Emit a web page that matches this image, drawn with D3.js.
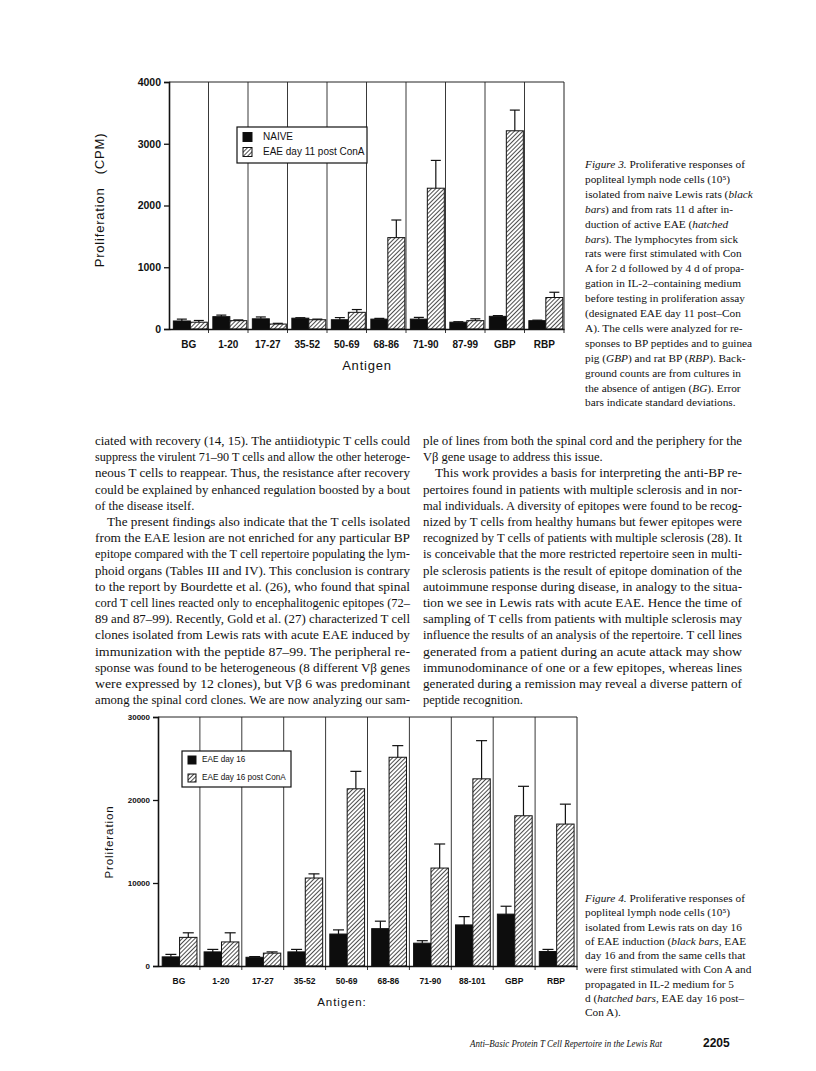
<!DOCTYPE html>
<html>
<head>
<meta charset="utf-8">
<script src="https://cdn.jsdelivr.net/npm/d3@7"></script>
<style>
  body { margin: 0; background: #fff; }
  svg { display: block; }
</style>
</head>
<body>
<svg id="page" width="816" height="1071"></svg>
<script>
// ---- data ----
var cats3 = ["BG", "1-20", "17-27", "35-52", "50-69", "68-86", "71-90", "87-99", "GBP", "RBP"];
var naive = [130, 200, 165, 175, 150, 160, 160, 110, 205, 135];
var naiveSd = [30, 25, 30, 8, 35, 12, 28, 8, 12, 8];
var eae11 = [110, 135, 80, 150, 270, 1480, 2280, 135, 3210, 510];
var eae11Sd = [28, 12, 12, 10, 45, 285, 450, 30, 335, 85];
var ticks3 = [0, 1000, 2000, 3000, 4000];

var cats4 = ["BG", "1-20", "17-27", "35-52", "50-69", "68-86", "71-90", "88-101", "GBP", "RBP"];
var day16 = [1100, 1700, 1050, 1700, 3850, 4500, 2750, 4950, 6250, 1750];
var day16Sd = [300, 300, 80, 300, 500, 900, 300, 1000, 950, 250];
var day16Con = [3450, 2900, 1550, 10600, 21350, 25150, 11800, 22550, 18100, 17100];
var day16ConSd = [550, 1100, 150, 500, 2100, 1400, 2900, 4600, 3550, 2400];
var ticks4 = [0, 10000, 20000, 30000];

var caption3 = [
    "{Figure 3.} Proliferative responses of",
    "popliteal lymph node cells (10\u2075)",
    "isolated from naive Lewis rats ({black}",
    "{bars}) and from rats 11 d after in-",
    "duction of active EAE ({hatched}",
    "{bars}). The lymphocytes from sick",
    "rats were first stimulated with Con",
    "A for 2 d followed by 4 d of propa-",
    "gation in IL-2\u2013containing medium",
    "before testing in proliferation assay",
    "(designated EAE day 11 post\u2013Con",
    "A). The cells were analyzed for re-",
    "sponses to BP peptides and to guinea",
    "pig ({GBP}) and rat BP ({RBP}). Back-",
    "ground counts are from cultures in",
    "the absence of antigen ({BG}). Error",
    "bars indicate standard deviations."
];
var caption4 = [
    "{Figure 4.} Proliferative responses of",
    "popliteal lymph node cells (10\u2075)",
    "isolated from Lewis rats on day 16",
    "of EAE induction ({black bars,} EAE",
    "day 16 and from the same cells that",
    "were first stimulated with Con A and",
    "propagated in IL-2 medium for 5",
    "d ({hatched bars,} EAE day 16 post\u2013",
    "Con A)."
];
// ">" marks an indented first line, "|" the last line of a paragraph
var leftCol = [
    "ciated with recovery (14, 15). The antiidiotypic T cells could",
    "suppress the virulent 71\u201390 T cells and allow the other heteroge-",
    "neous T cells to reappear. Thus, the resistance after recovery",
    "could be explained by enhanced regulation boosted by a bout",
    "of the disease itself.|",
    ">The present findings also indicate that the T cells isolated",
    "from the EAE lesion are not enriched for any particular BP",
    "epitope compared with the T cell repertoire populating the lym-",
    "phoid organs (Tables III and IV). This conclusion is contrary",
    "to the report by Bourdette et al. (26), who found that spinal",
    "cord T cell lines reacted only to encephalitogenic epitopes (72\u2013",
    "89 and 87\u201399). Recently, Gold et al. (27) characterized T cell",
    "clones isolated from Lewis rats with acute EAE induced by",
    "immunization with the peptide 87\u201399. The peripheral re-",
    "sponse was found to be heterogeneous (8 different V\u03b2 genes",
    "were expressed by 12 clones), but V\u03b2 6 was predominant",
    "among the spinal cord clones. We are now analyzing our sam-"
];
var rightCol = [
    "ple of lines from both the spinal cord and the periphery for the",
    "V\u03b2 gene usage to address this issue.|",
    ">This work provides a basis for interpreting the anti-BP re-",
    "pertoires found in patients with multiple sclerosis and in nor-",
    "mal individuals. A diversity of epitopes were found to be recog-",
    "nized by T cells from healthy humans but fewer epitopes were",
    "recognized by T cells of patients with multiple sclerosis (28). It",
    "is conceivable that the more restricted repertoire seen in multi-",
    "ple sclerosis patients is the result of epitope domination of the",
    "autoimmune response during disease, in analogy to the situa-",
    "tion we see in Lewis rats with acute EAE. Hence the time of",
    "sampling of T cells from patients with multiple sclerosis may",
    "influence the results of an analysis of the repertoire. T cell lines",
    "generated from a patient during an acute attack may show",
    "immunodominance of one or a few epitopes, whereas lines",
    "generated during a remission may reveal a diverse pattern of",
    "peptide recognition.|"
];

var svg = d3.select("#page");
var SANS = "'Liberation Sans', Arial, sans-serif";
var SERIF = "'Liberation Serif', 'Times New Roman', serif";

var defs = svg.append("defs");
defs.append("pattern")
    .attr("id", "hatch")
    .attr("patternUnits", "userSpaceOnUse")
    .attr("width", 3).attr("height", 3)
    .attr("patternTransform", "rotate(45)")
  .call(function (p) {
      p.append("rect").attr("width", 3).attr("height", 3).attr("fill", "#fff");
      p.append("line").attr("x1", 0).attr("y1", 0).attr("x2", 0).attr("y2", 3)
          .attr("stroke", "#111").attr("stroke-width", 1.5);
  });

function drawChart(o) {
    var g = svg.append("g");
    var x = d3.scaleBand().domain(o.cats).range([o.left, o.right]);
    var sub = d3.scaleBand().domain([0, 1])
        .range([x.bandwidth() * o.inset[0], x.bandwidth() * o.inset[1]]);
    var y = d3.scaleLinear().domain([0, o.yMax]).range([o.bottom, o.top]);

    // separators between antigens, plus frame
    g.selectAll("line.sep").data(o.cats.slice(1)).enter().append("line")
        .attr("x1", function (d) { return x(d); }).attr("x2", function (d) { return x(d); })
        .attr("y1", o.top).attr("y2", o.bottom + 4)
        .attr("stroke", "#222").attr("stroke-width", 0.9);
    g.append("path")
        .attr("d", "M" + o.left + "," + o.top + "H" + o.right + "V" + (o.bottom + 4))
        .attr("fill", "none").attr("stroke", "#222").attr("stroke-width", 1);

    var series = [
        { vals: o.s1, sd: o.s1sd, fill: "#0d0d0d" },
        { vals: o.s2, sd: o.s2sd, fill: "url(#hatch)" }
    ];

    // legend sits behind the bars but over the separators
    var lg = g.append("g");
    var b = o.legend;
    lg.append("rect").attr("x", b.x).attr("y", b.y).attr("width", b.w).attr("height", b.h)
        .attr("fill", "#fff").attr("stroke", "#111").attr("stroke-width", 1.2);
    o.names.forEach(function (n, k) {
        var ry = b.y + b.rows[k];
        lg.append("rect").attr("x", b.x + 6).attr("y", ry - b.sw / 2)
            .attr("width", b.sw).attr("height", b.sw)
            .attr("fill", series[k].fill).attr("stroke", "#111").attr("stroke-width", 1);
        lg.append("text").attr("x", b.x + b.tx).attr("y", ry)
            .attr("dominant-baseline", "middle")
            .attr("font-family", SANS).attr("font-size", b.font).attr("fill", "#111").text(n);
    });

    series.forEach(function (s, k) {
        var bars = g.append("g");
        bars.selectAll("rect").data(o.cats).enter().append("rect")
            .attr("x", function (d) { return x(d) + sub(k); })
            .attr("width", sub.bandwidth())
            .attr("y", function (d, i) { return y(s.vals[i]); })
            .attr("height", function (d, i) { return o.bottom - y(s.vals[i]); })
            .attr("fill", s.fill).attr("stroke", "#111").attr("stroke-width", 1);
        var cx = function (d) { return x(d) + sub(k) + sub.bandwidth() / 2; };
        bars.selectAll("line.err").data(o.cats).enter().append("line")
            .attr("x1", cx).attr("x2", cx)
            .attr("y1", function (d, i) { return y(s.vals[i]); })
            .attr("y2", function (d, i) { return y(s.vals[i] + s.sd[i]); })
            .attr("stroke", "#111").attr("stroke-width", 1.2);
        bars.selectAll("line.cap").data(o.cats).enter().append("line")
            .attr("x1", function (d) { return cx(d) - o.cap; })
            .attr("x2", function (d) { return cx(d) + o.cap; })
            .attr("y1", function (d, i) { return y(s.vals[i] + s.sd[i]); })
            .attr("y2", function (d, i) { return y(s.vals[i] + s.sd[i]); })
            .attr("stroke", "#111").attr("stroke-width", 1.2);
    });

    // axes
    var ya = g.append("g").attr("transform", "translate(" + o.left + ",0)")
        .call(d3.axisLeft(y).tickValues(o.ticks).tickSize(5).tickPadding(3).tickFormat(d3.format("d")));
    ya.select(".domain").attr("stroke", "#111").attr("stroke-width", 1.6);
    ya.selectAll(".tick line").attr("stroke", "#111").attr("stroke-width", 1.3);
    ya.selectAll("text").attr("font-family", SANS).attr("font-size", o.tickFont)
        .attr("font-weight", "bold").attr("fill", "#111");

    var xa = g.append("g").attr("transform", "translate(0," + o.bottom + ")")
        .call(d3.axisBottom(x).tickSize(0).tickPadding(o.xPad).tickSizeOuter(0));
    xa.select(".domain").attr("stroke", "#111").attr("stroke-width", 1.6);
    xa.selectAll("text").attr("font-family", SANS).attr("font-size", o.catFont)
        .attr("font-weight", "bold").attr("fill", "#111");

    g.append("text")
        .attr("transform", "translate(" + o.yLab[0] + "," + o.yLab[1] + ") rotate(-90)")
        .attr("text-anchor", "middle").attr("dominant-baseline", "middle")
        .attr("font-family", SANS).attr("font-size", o.labFont)
        .attr("letter-spacing", o.labSpacing).style("white-space", "pre")
        .attr("fill", "#111").text(o.yTitle);
    g.append("text")
        .attr("x", o.xLab[0]).attr("y", o.xLab[1])
        .attr("text-anchor", "middle").attr("dominant-baseline", "middle")
        .attr("font-family", SANS).attr("font-size", o.labFont)
        .attr("letter-spacing", o.labSpacing).attr("fill", "#111").text(o.xTitle);
}

drawChart({
    cats: cats3, s1: naive, s1sd: naiveSd, s2: eae11, s2sd: eae11Sd,
    left: 169, right: 564, top: 82, bottom: 329, yMax: 4000, ticks: ticks3,
    inset: [0.11, 0.97], cap: 5, tickFont: 10.5, catFont: 10, xPad: 12,
    labFont: 13, labSpacing: 0.8, yTitle: "Proliferation   (CPM)", yLab: [101, 200],
    xTitle: "Antigen", xLab: [367, 367],
    names: ["NAIVE", "EAE day 11 post ConA"],
    legend: { x: 237, y: 127, w: 130, h: 36, rows: [10, 25], sw: 9, tx: 26, font: 10 }
});

drawChart({
    cats: cats4, s1: day16, s1sd: day16Sd, s2: day16Con, s2sd: day16ConSd,
    left: 158, right: 577, top: 717, bottom: 966, yMax: 30000, ticks: ticks4,
    inset: [0.1, 0.93], cap: 5.5, tickFont: 8, catFont: 8.5, xPad: 12,
    labFont: 11.5, labSpacing: 0.9, yTitle: "Proliferation", yLab: [110, 842],
    xTitle: "Antigen:", xLab: [342, 1003],
    names: ["EAE day 16", "EAE day 16 post ConA"],
    legend: { x: 182, y: 751, w: 109, h: 36, rows: [9, 27], sw: 8, tx: 20, font: 8.2 }
});

// ---- page text ----
function richLine(t, x, y, str, size) {
    var el = t.append("text").attr("x", x).attr("y", y)
        .attr("font-family", SERIF).attr("font-size", size).attr("fill", "#111")
        .style("white-space", "pre");
    str.split(/(\{[^}]*\})/).forEach(function (part) {
        if (!part) { return; }
        var it = part.charAt(0) === "{";
        el.append("tspan").attr("font-style", it ? "italic" : "normal")
            .text(it ? part.slice(1, -1) : part);
    });
    return el;
}

function column(lines, x, y0, lh, width, size) {
    var t = svg.append("g");
    lines.forEach(function (s, i) {
        var indent = s.charAt(0) === ">" ? 12 : 0;
        var last = s.charAt(s.length - 1) === "|";
        var str = s.replace(/^>/, "").replace(/\|$/, "");
        var el = richLine(t, x + indent, y0 + i * lh, str, size);
        if (!last) {
            el.attr("textLength", width - indent).attr("lengthAdjust", "spacingAndGlyphs");
        }
    });
}

function caption(lines, x, y0, lh, size) {
    var t = svg.append("g");
    lines.forEach(function (s, i) { richLine(t, x, y0 + i * lh, s, size); });
}

caption(caption3, 585, 168, 14.9, 11.3);
caption(caption4, 585, 902, 14.25, 11.3);
column(leftCol, 95, 445, 16.2, 315, 12.5);
column(rightCol, 423, 445, 16.2, 319, 12.5);

svg.append("text").attr("x", 470).attr("y", 1047)
    .attr("font-family", SERIF).attr("font-style", "italic").attr("font-size", 10.4)
    .attr("textLength", 192).attr("lengthAdjust", "spacingAndGlyphs")
    .attr("fill", "#111").text("Anti\u2013Basic Protein T Cell Repertoire in the Lewis Rat");
svg.append("text").attr("x", 703).attr("y", 1047)
    .attr("font-family", SANS).attr("font-weight", "bold").attr("font-size", 12)
    .attr("fill", "#111").text("2205");
</script>
</body>
</html>
